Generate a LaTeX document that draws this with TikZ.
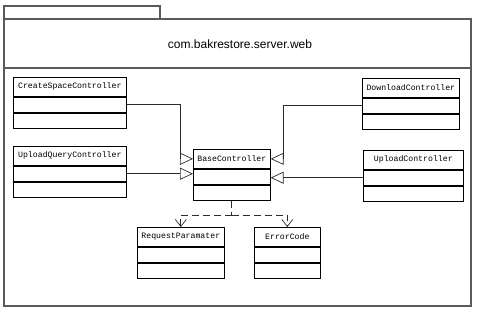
\documentclass[tikz,border=0pt]{standalone}
\usepackage{fontspec}
\setmainfont{Liberation Sans}
\setmonofont{Liberation Mono}
\usepackage{tikz}
\usetikzlibrary{arrows.meta, positioning, calc}
\definecolor{frame-grey}{HTML}{5A5A5A}
\definecolor{line-grey}{HTML}{2A2A2A}

\tikzset{
    classhead/.style={draw=black, line width=0.65pt, fill=white, minimum height=19pt, inner sep=0pt,
        font=\ttfamily\fontsize{8.2}{10}\selectfont, anchor=north west},
    classpart/.style={draw=black, line width=0.65pt, fill=white, minimum height=15.5pt, inner sep=0pt, anchor=north},
    inherit/.style={draw=line-grey, line width=0.7pt, -{Triangle[open, length=13pt, width=12pt]}},
    depends/.style={draw=line-grey, line width=0.7pt, dash pattern=on 7pt off 4pt, -{Straight Barb[length=7pt, width=11pt]}},
    pkgframe/.style={draw=frame-grey, line width=1.1pt}
}

% one class box: name, north west corner, width, label
\newcommand{\umlclass}[4]{
    \node[classhead, minimum width=#3] (#1) at (#2) {#4};
    \node[classpart, minimum width=#3] (#1-attr) at (#1.south) {};
    \node[classpart, minimum width=#3] (#1-ops) at (#1-attr.south) {};
}

\begin{document}
\begin{tikzpicture}[x=1pt, y=-1pt]
    \useasboundingbox (0,0) rectangle (477,312);

    % package frame
    \draw[pkgframe] (4,6) rectangle (160,19);
    \draw[pkgframe] (4,19) rectangle (471,306);
    \draw[pkgframe] (4,68) -- (471,68);
    \node (pkgtitle) at (240,44) {\fontsize{12}{14}\selectfont com.bakrestore.server.web};

    % classes
    \umlclass{createspace}{13,77}{113}{CreateSpaceController}
    \umlclass{uploadquery}{13,146}{113}{UploadQueryController}
    \umlclass{base}{193,149}{77}{BaseController}
    \umlclass{download}{362,78}{97}{DownloadController}
    \umlclass{upload}{363,150}{100}{UploadController}
    \umlclass{request}{137,227}{87}{RequestParamater}
    \umlclass{errorcode}{254,227}{66}{ErrorCode}

    % generalisations
    \draw[inherit] (createspace-attr.east) -| ([xshift=-13pt]base.west) -- (base.west);
    \draw[inherit] (uploadquery-attr.east) -- (uploadquery-attr.east -| base.west);
    \draw[inherit] (download-attr.west) -| ([xshift=13pt]base.east) -- (base.east);
    \draw[inherit] (upload-attr.west) -- (upload-attr.west -| base.east);

    % dependencies
    \coordinate (split) at ($(base-ops.south)+(0,14)$);
    \draw[line-grey, line width=0.7pt, dash pattern=on 7pt off 4pt] (base-ops.south) -- (split);
    \draw[depends] (split) -| (request.north);
    \draw[depends] (split) -| (errorcode.north);
\end{tikzpicture}
\end{document}
